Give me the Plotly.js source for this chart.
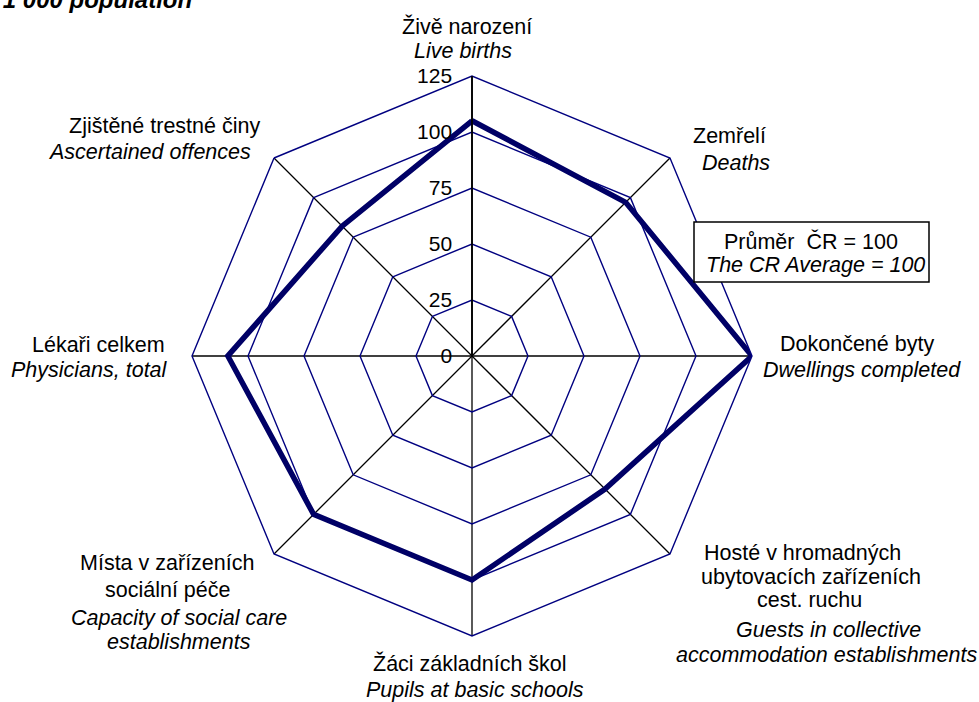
<!DOCTYPE html>
<html>
<head>
<meta charset="utf-8">
<script src="https://cdn.plot.ly/plotly-3.0.1.min.js"></script>
<style>html,body{margin:0;padding:0;background:#fff;}#chart{width:979px;height:702px;}</style>
</head>
<body>
<div id="chart"></div>
<script>
// ---- data ----
const categories = ['Živě narození', 'Zemřelí', 'Dokončené byty',
  'Hosté v hromadných ubytovacích zařízeních cest. ruchu', 'Žáci základních škol',
  'Místa v zařízeních sociální péče', 'Lékaři celkem', 'Zjištěné trestné činy'];
const categoriesEn = ['Live births', 'Deaths', 'Dwellings completed',
  'Guests in collective accommodation establishments', 'Pupils at basic schools',
  'Capacity of social care establishments', 'Physicians, total', 'Ascertained offences'];
const values = [105, 97, 125, 84, 100, 100, 109, 82];
const radialTicks = [0, 25, 50, 75, 100, 125];
const labelLinesCz = [['Živě narození'], ['Zemřelí'], ['Dokončené byty'],
  ['Hosté v hromadných', 'ubytovacích zařízeních', 'cest. ruchu'], ['Žáci základních škol'],
  ['Místa v zařízeních', 'sociální péče'], ['Lékaři celkem'], ['Zjištěné trestné činy']];
const labelLinesEn = [['Live births'], ['Deaths'], ['Dwellings completed'],
  ['Guests in collective', 'accommodation establishments'], ['Pupils at basic schools'],
  ['Capacity of social care', 'establishments'], ['Physicians, total'], ['Ascertained offences']];
const legendLines = ['Průměr  ČR = 100', 'The CR Average = 100'];
const unitText = 'Na 1 000 obyvatel / Per 1 000 population';

// ---- layout helpers ----
const W = 979, H = 702;
const FONT = 'Liberation Sans, Arial, sans-serif';
const FS = 21.5;
const px = x => x / W;
const py = y => 1 - y / H;

const labelPos = [
  {cz: [[467, 27]], en: [[463, 51]]},
  {cz: [[729, 136]], en: [[736, 163]]},
  {cz: [[857, 344]], en: [[862, 370]]},
  {cz: [[802, 553], [811, 577], [809, 600]], en: [[828, 630], [826, 655]]},
  {cz: [[470, 663]], en: [[475, 690]]},
  {cz: [[167, 563], [168, 590]], en: [[179, 618], [179, 642]]},
  {cz: [[98, 345]], en: [[89, 370]]},
  {cz: [[164, 126]], en: [[149, 152]]}
];

const annotations = [];
function addText(t, x, y, italic, size, anchor) {
  annotations.push({
    text: italic ? '<i>' + t + '</i>' : t,
    x: px(x), y: py(y), xref: 'paper', yref: 'paper',
    xanchor: anchor || 'center', yanchor: 'middle', showarrow: false,
    font: {family: FONT, size: size || FS, color: '#000'}
  });
}
labelLinesCz.forEach((lines, i) => lines.forEach((t, j) => addText(t, labelPos[i].cz[j][0], labelPos[i].cz[j][1], false)));
labelLinesEn.forEach((lines, i) => lines.forEach((t, j) => addText(t, labelPos[i].en[j][0], labelPos[i].en[j][1], true)));
addText(legendLines[0], 811, 241, false);
addText(legendLines[1], 815, 265, true);
annotations.push({
  text: '<b><i>' + unitText + '</i></b>', x: px(194), y: py(-1), xref: 'paper', yref: 'paper',
  xanchor: 'right', yanchor: 'middle', showarrow: false,
  font: {family: FONT, size: 24, color: '#000'}
});

const cx = 472, cy = 356, R = 280;
const trace = {
  type: 'scatterpolar',
  mode: 'lines',
  r: values.concat([values[0]]),
  theta: categories.concat([categories[0]]),
  line: {color: '#000066', width: 5.5},
  hoverinfo: 'skip',
  showlegend: false
};

const layout = {
  width: W, height: H,
  margin: {l: 0, r: 0, t: 0, b: 0},
  paper_bgcolor: '#fff',
  showlegend: false,
  polar: {
    domain: {x: [px(cx - R), px(cx + R)], y: [py(cy + R), py(cy - R)]},
    bgcolor: '#fff',
    gridshape: 'linear',
    angularaxis: {
      type: 'category',
      categoryorder: 'array', categoryarray: categories,
      direction: 'clockwise', rotation: 90,
      showticklabels: false, ticks: '',
      showgrid: true, gridcolor: '#000', gridwidth: 1.3,
      showline: true, linecolor: '#000080', linewidth: 1.4
    },
    radialaxis: {
      range: [0, 125], tickvals: radialTicks,
      ticktext: radialTicks.map(v => String(v) + '\u00a0\u00a0'),
      angle: 90, tickangle: 90, side: 'counterclockwise',
      ticks: '', showline: true, linecolor: '#000', linewidth: 1.8,
      showgrid: true, gridcolor: '#000080', gridwidth: 1.4,
      tickfont: {family: FONT, size: 21, color: '#000'}
    }
  },
  shapes: [{
    type: 'rect', xref: 'paper', yref: 'paper', layer: 'above',
    x0: px(694), x1: px(929), y0: py(282), y1: py(222),
    line: {color: '#000', width: 1.5}, fillcolor: '#fff'
  }],
  annotations: annotations
};

Plotly.newPlot('chart', [trace], layout, {displayModeBar: false, staticPlot: true});
</script>
</body>
</html>
